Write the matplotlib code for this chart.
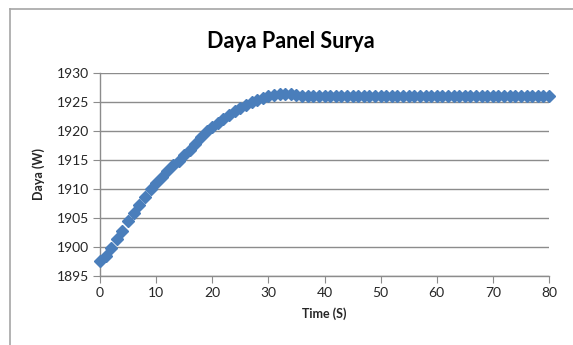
import matplotlib
matplotlib.use("Agg")
import matplotlib.pyplot as plt
from matplotlib.lines import Line2D

time_s = list(range(0, 81))
daya_w = [
    1897.6, 1898.5, 1899.8, 1901.3, 1902.8, 1904.4, 1905.8, 1907.2, 1908.6, 1910.0,
    1911.1, 1912.1, 1913.1, 1914.1, 1914.9, 1915.8, 1916.8, 1917.8, 1918.9, 1920.0,
    1920.7, 1921.4, 1922.1, 1922.8, 1923.4, 1924.0, 1924.5, 1925.0, 1925.4, 1925.7,
    1926.0, 1926.2, 1926.4, 1926.4, 1926.3, 1926.2, 1926.1, 1926.0, 1926.1, 1926.0,
    1926.1, 1926.0, 1926.1, 1926.0, 1926.1, 1926.0, 1926.1, 1926.0, 1926.1, 1926.0,
    1926.1, 1926.0, 1926.1, 1926.0, 1926.1, 1926.0, 1926.1, 1926.0, 1926.1, 1926.0,
    1926.1, 1926.0, 1926.1, 1926.0, 1926.1, 1926.0, 1926.1, 1926.0, 1926.1, 1926.0,
    1926.1, 1926.0, 1926.1, 1926.0, 1926.1, 1926.0, 1926.1, 1926.0, 1926.1, 1926.0,
    1926.1,
]
x_ticks = [0, 10, 20, 30, 40, 50, 60, 70, 80]
y_ticks = [1895, 1900, 1905, 1910, 1915, 1920, 1925, 1930]

plt.rcParams['font.family'] = ['Lato', 'DejaVu Sans']

W, H = 573, 345
fig = plt.figure(figsize=(W / 100, H / 100), dpi=100)
ax = fig.add_axes([100 / W, 1 - 276 / H, (549 - 100) / W, (276 - 73) / H])

ax.plot(time_s, daya_w, linestyle='none', marker='D', markersize=5.8,
        color='#4A7EBB', markeredgecolor='#4A7EBB', zorder=3, clip_on=False)

ax.set_xlim(0, 80)
ax.set_ylim(1895, 1930)
ax.set_xticks(x_ticks)
ax.set_yticks(y_ticks)
ax.yaxis.grid(True, color='#8C8C8C', linewidth=1.0)
ax.set_axisbelow(True)
for s in ['top', 'right']:
    ax.spines[s].set_visible(False)
for s in ['left', 'bottom']:
    ax.spines[s].set_color('#8C8C8C')
    ax.spines[s].set_linewidth(1.0)
ax.tick_params(direction='out', length=5, color='#8C8C8C', labelsize=10,
               labelcolor='#262626', pad=3)

ax.set_xlabel('Time (S)', fontsize=9, fontweight='bold', color='#262626', labelpad=6)
ax.set_ylabel('Daya (W)', fontsize=9, fontweight='bold', color='#262626', labelpad=8)

fig.text(291 / W, 1 - 42 / H, 'Daya Panel Surya', ha='center', va='center',
         fontsize=15.5, fontweight='bold', color='black')

# outer chart border (partially visible)
fig.add_artist(Line2D([10 / W, 10 / W], [0, 1 - 9 / H], transform=fig.transFigure,
                      color='#A6A6A6', linewidth=1.2))
fig.add_artist(Line2D([10 / W, 1], [1 - 9 / H, 1 - 9 / H], transform=fig.transFigure,
                      color='#A6A6A6', linewidth=1.2))

fig.savefig('out.png', dpi=100, facecolor='white')
